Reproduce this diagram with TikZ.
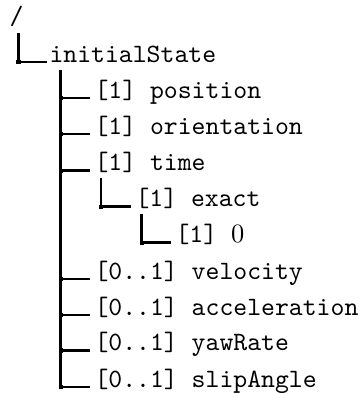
\documentclass[tikz,border=0pt]{standalone}
\usetikzlibrary{calc}
\begin{document}
\begin{tikzpicture}[x=0.378pt,y=-0.378pt,
  lbl/.style={anchor=base west,inner sep=0pt,font=\ttfamily},
  conn/.style={line width=1pt},
  dot/.style={fill,rectangle,minimum size=1.6pt,inner sep=0pt}]
\useasboundingbox (0,0) rectangle (361,394);
% labels
\node[lbl] (root) at (9,24) {/};
\node[lbl] (init) at (49,62) {initialState};
\node[lbl] (pos) at (94,98) {[1] position};
\node[lbl] (ori) at (94,134) {[1] orientation};
\node[lbl] (time) at (94,170.7) {[1] time};
\node[lbl] (exact) at (135,206.7) {[1] exact};
\node[lbl] (zero) at (175,242.7) {[1] $0$};
\node[lbl] (vel) at (94,279) {[0..1] velocity};
\node[lbl] (acc) at (94,315) {[0..1] acceleration};
\node[lbl] (yaw) at (94,350.5) {[0..1] yawRate};
\node[lbl] (slip) at (94,387) {[0..1] slipAngle};
% vertical tops
\coordinate (t0) at (18.5,33);
\coordinate (t1) at (60.7,70);
\coordinate (t2) at (101,177.5);
\coordinate (t3) at (141.7,213.5);
% connectors
\draw[conn] (t0) |- node[dot]{} ($(init.base west)+(-2,0)$);
\foreach \c in {pos,ori,time,vel,acc,yaw,slip}
  \draw[conn] (t1) |- node[dot]{} ($(\c.base west)+(-4,0)$);
\draw[conn] (t2) |- node[dot]{} ($(exact.base west)+(-4.3,0)$);
\draw[conn] (t3) |- node[dot]{} ($(zero.base west)+(-4.3,0)$);
\end{tikzpicture}
\end{document}
